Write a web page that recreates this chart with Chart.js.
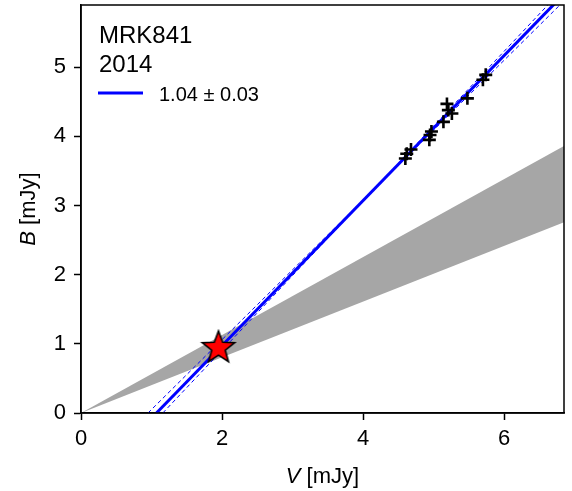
<!DOCTYPE html>
<html>
<head>
<meta charset="utf-8">
<script src="https://cdn.jsdelivr.net/npm/chart.js@4.4.0/dist/chart.umd.min.js"></script>
<style>
  html, body { margin: 0; padding: 0; background: #fff; }
</style>
</head>
<body>
<canvas id="c" width="572" height="491"></canvas>
<script>
// observed fluxes (V, B) in mJy
const obsV = [4.60, 4.62, 4.68, 4.94, 4.95, 4.97, 5.14, 5.21, 5.19, 5.26, 5.48, 5.70, 5.74];
const obsB = [3.68, 3.75, 3.81, 3.95, 4.02, 4.07, 4.21, 4.38, 4.47, 4.33, 4.55, 4.82, 4.89];

// host galaxy point (star)
const hostV = [1.95];
const hostB = [0.94];

// fitted line and its +/- slope lines (end points)
const fitV = [1.07, 6.87];
const fitB = [0.00, 6.08];
const fitLoV = [0.95, 7.0];
const fitLoB = [0.00, 6.11];
const fitHiV = [1.16, 7.0];
const fitHiB = [0.00, 6.31];

// grey wedge (host colour range)
const wedgeV = [0, 6.85];
const wedgeHi = [0, 3.86];
const wedgeLo = [0, 2.76];

const xTicks = [0, 2, 4, 6];
const yTicks = [0, 1, 2, 3, 4, 5];

const FONT = "'Liberation Sans', Arial, sans-serif";

function pts(xs, ys) { return xs.map((x, i) => ({ x: x, y: ys[i] })); }

// star marker
function makeStar(r) {
    const s = Math.ceil(r * 2 + 4);
    const cv = document.createElement('canvas');
    cv.width = s; cv.height = s;
    const ctx = cv.getContext('2d');
    const cx = s / 2, cy = s / 2, inner = r * 0.42;
    ctx.beginPath();
    for (let i = 0; i < 10; i++) {
        const rr = i % 2 === 0 ? r : inner;
        const a = -Math.PI / 2 + i * Math.PI / 5;
        const px = cx + rr * Math.cos(a), py = cy + rr * Math.sin(a);
        if (i === 0) ctx.moveTo(px, py); else ctx.lineTo(px, py);
    }
    ctx.closePath();
    ctx.fillStyle = '#ff0000';
    ctx.fill();
    ctx.lineWidth = 1.6;
    ctx.strokeStyle = '#000';
    ctx.lineJoin = 'miter';
    ctx.stroke();
    return cv;
}

const extras = {
    id: 'extras',
    afterDraw(chart) {
        const { ctx, chartArea: a } = chart;
        ctx.save();
        // frame
        ctx.strokeStyle = '#000';
        ctx.lineWidth = 1.5;
        ctx.strokeRect(a.left, a.top, a.right - a.left, a.bottom - a.top);

        // legend / label block
        ctx.fillStyle = '#000';
        ctx.textAlign = 'left';
        ctx.textBaseline = 'alphabetic';
        ctx.font = '24px ' + FONT;
        ctx.fillText('MRK841', 99, 43);
        ctx.fillText('2014', 99, 72);
        ctx.strokeStyle = '#0000ff';
        ctx.lineWidth = 3;
        ctx.beginPath();
        ctx.moveTo(98, 93); ctx.lineTo(143, 93);
        ctx.stroke();
        ctx.font = '20px ' + FONT;
        ctx.fillText('1.04 \u00b1 0.03', 159, 101);

        // axis titles with italic symbol
        ctx.font = 'italic 22px ' + FONT;
        const wV = ctx.measureText('V').width;
        ctx.font = '22px ' + FONT;
        const wU = ctx.measureText(' [mJy]').width;
        const cx = (a.left + a.right) / 2;
        let x0 = cx - (wV + wU) / 2;
        ctx.font = 'italic 22px ' + FONT;
        ctx.fillText('V', x0, 483);
        ctx.font = '22px ' + FONT;
        ctx.fillText(' [mJy]', x0 + wV, 483);

        ctx.translate(35, (a.top + a.bottom) / 2);
        ctx.rotate(-Math.PI / 2);
        ctx.font = 'italic 22px ' + FONT;
        const wB = ctx.measureText('B').width;
        ctx.font = '22px ' + FONT;
        const wU2 = ctx.measureText(' [mJy]').width;
        x0 = -(wB + wU2) / 2;
        ctx.font = 'italic 22px ' + FONT;
        ctx.fillText('B', x0, 0);
        ctx.font = '22px ' + FONT;
        ctx.fillText(' [mJy]', x0 + wB, 0);
        ctx.restore();
    }
};

const lineDs = (data, color, width, dash, order) => ({
    data: data, showLine: true, borderColor: color, borderWidth: width,
    borderDash: dash, pointRadius: 0, fill: false, order: order
});

new Chart(document.getElementById('c'), {
    type: 'scatter',
    data: {
        datasets: [
            { data: pts(hostV, hostB), pointStyle: makeStar(17), pointRadius: 17, order: 0 },
            { data: pts(obsV, obsB), pointStyle: 'cross', pointRadius: 6.5, borderColor: '#000',
              borderWidth: 2.6, backgroundColor: '#000', order: 1 },
            lineDs(pts(fitV, fitB), '#0000ff', 3, [], 2),
            lineDs(pts(fitLoV, fitLoB), '#0000ff', 1, [4, 3], 3),
            lineDs(pts(fitHiV, fitHiB), '#0000ff', 1, [4, 3], 3),
            { data: pts(wedgeV, wedgeHi), showLine: true, borderWidth: 0, borderColor: 'rgba(0,0,0,0)',
              pointRadius: 0, fill: false, order: 5 },
            { data: pts(wedgeV, wedgeLo), showLine: true, borderWidth: 0, borderColor: 'rgba(0,0,0,0)',
              pointRadius: 0, fill: '-1', backgroundColor: 'rgb(166,166,166)', order: 4 }
        ]
    },
    options: {
        responsive: false,
        animation: false,
        events: [],
        layout: { autoPadding: false, padding: { top: 5, right: 8, left: 0, bottom: 0 } },
        plugins: { legend: { display: false }, tooltip: { enabled: false } },
        scales: {
            x: {
                type: 'linear', min: 0, max: 6.85,
                afterFit: s => { s.height = 78; s.paddingLeft = 0; s.paddingRight = 0; },
                afterBuildTicks: s => { s.ticks = xTicks.map(v => ({ value: v })); },
                grid: { drawOnChartArea: false, tickLength: 7, color: '#000', tickWidth: 1.5 },
                border: { color: '#000', width: 1.5 },
                ticks: { color: '#000', padding: 6, font: { size: 22, family: FONT }, maxRotation: 0 }
            },
            y: {
                type: 'linear', min: 0, max: 5.9,
                afterFit: s => { s.width = 81; s.paddingTop = 0; s.paddingBottom = 0; },
                afterBuildTicks: s => { s.ticks = yTicks.map(v => ({ value: v })); },
                grid: { drawOnChartArea: false, tickLength: 7, color: '#000', tickWidth: 1.5 },
                border: { color: '#000', width: 1.5 },
                ticks: { color: '#000', padding: 8, font: { size: 22, family: FONT } }
            }
        }
    },
    plugins: [extras]
});
</script>
</body>
</html>
